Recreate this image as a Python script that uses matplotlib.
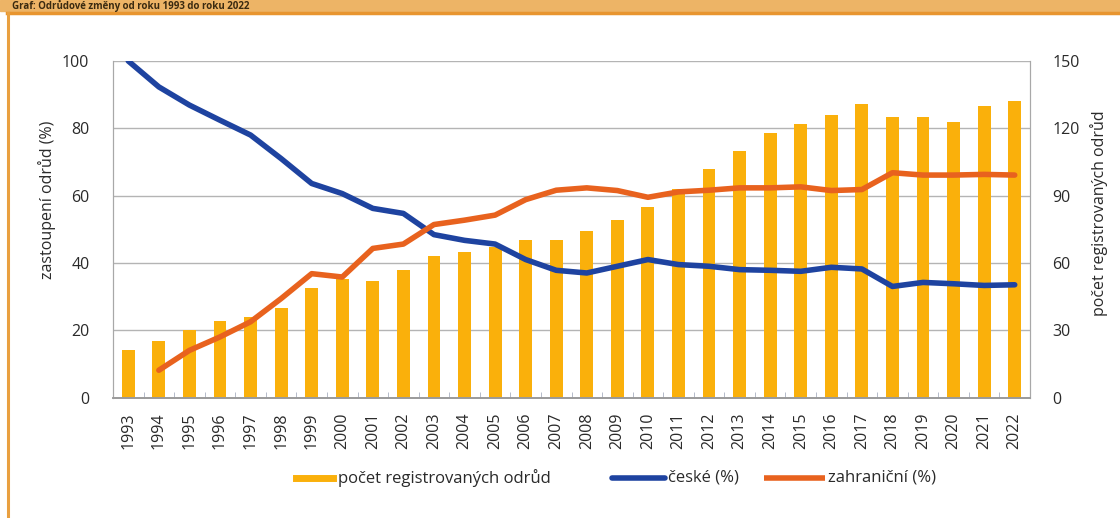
import matplotlib
matplotlib.use("Agg")
import matplotlib.pyplot as plt
from matplotlib.lines import Line2D
from matplotlib.patches import Rectangle
import numpy as np

plt.rcParams['font.family'] = ['Open Sans', 'DejaVu Sans']

years = list(range(1993, 2023))
year_labels = [str(y) for y in years]

# number of registered varieties (right axis)
pocet = [21, 25, 30, 34, 36, 40, 49, 53, 52, 57, 63, 65, 67, 70, 70, 74,
         79, 85, 93, 102, 110, 118, 122, 126, 131, 125, 125, 123, 130, 132]

# share of Czech varieties (%)
ceske = [100, 92.3, 86.9, 82.4, 78, 71, 63.6, 60.6, 56.2, 54.7, 48.4, 46.7, 45.6, 41, 37.8, 37,
         39, 41, 39.5, 39, 38, 37.8, 37.5, 38.7, 38.2, 33, 34.2, 33.8, 33.3, 33.5]

# share of foreign varieties (%) from 1994
zahr_years = list(range(1994, 2023))
zahranicni = [8.1, 14, 18, 22.5, 29.4, 36.8, 35.8, 44.3, 45.6, 51.4, 52.7, 54.2, 58.8, 61.6, 62.3,
              61.5, 59.5, 61.1, 61.6, 62.3, 62.3, 62.6, 61.5, 61.8, 66.8, 66.1, 66.1, 66.3, 66.1]

bar_color = '#FAB00B'
blue = '#1E43A0'
orange = '#E8621E'
grid_c = '#B4B4B4'
txt_c = '#2A2A2A'

W, H = 1120, 518
fig = plt.figure(figsize=(W / 100, H / 100), dpi=100)
fig.patch.set_facecolor('white')

def fx(px):
    return px / W

def fy(py):
    return 1 - py / H

left, right, top, bottom = 113, 1030, 61, 397.5
ax_bar = fig.add_axes([fx(left), fy(bottom), fx(right - left), (bottom - top) / H])
ax_line = ax_bar.twinx()

x = np.arange(len(years))
ax_bar.bar(x, pocet, width=0.42, color=bar_color, zorder=2)
ax_bar.set_ylim(0, 150)
ax_bar.set_xlim(-0.5, len(years) - 0.5)
ax_bar.set_yticks([0, 30, 60, 90, 120, 150])
ax_bar.yaxis.tick_right()
ax_bar.yaxis.set_label_position('right')
for v in [30, 60, 90, 120, 150]:
    ax_bar.axhline(v, color=grid_c, lw=1.0, zorder=1)

zx = [years.index(y) for y in zahr_years]
ax_line.plot(x, ceske, color=blue, lw=4, solid_capstyle='round', solid_joinstyle='round', zorder=3)
ax_line.plot(zx, zahranicni, color=orange, lw=4, solid_capstyle='round', solid_joinstyle='round', zorder=3)
ax_line.set_ylim(0, 100)
ax_line.set_yticks([0, 20, 40, 60, 80, 100])
ax_line.yaxis.tick_left()

ax_bar.set_xticks(x)
ax_bar.set_xticklabels(year_labels, rotation=90, fontsize=11.5, color=txt_c)
ax_bar.set_xticks(x + 0.5, minor=True)
ax_bar.tick_params(axis='x', which='major', length=0, pad=11)
ax_bar.tick_params(axis='x', which='minor', length=4, direction='in', color='#A8B0C0')
ax_bar.tick_params(axis='y', length=0, pad=16, labelsize=11.5, labelcolor=txt_c)
ax_line.tick_params(axis='y', length=0, pad=17, labelsize=11.5, labelcolor=txt_c)
ax_line.tick_params(axis='x', which='both', length=0)

for a in (ax_bar, ax_line):
    a.spines['top'].set_visible(False)
    a.spines['left'].set_color('#A8A8A8')
    a.spines['right'].set_color('#A8A8A8')
    a.spines['bottom'].set_color('#9A9A9A')
    a.spines['bottom'].set_linewidth(1.2)

fig.text(fx(47), fy(200), 'zastoupení odrůd (%)', rotation=90, ha='center', va='center',
         fontsize=11.5, color=txt_c)
fig.text(fx(1099), fy(213), 'počet registrovaných odrůd', rotation=90, ha='center', va='center',
         fontsize=11.5, color=txt_c)

# legend
ly = fy(478)
fig.add_artist(Line2D([fx(296), fx(333)], [ly, ly], color=bar_color, lw=5, transform=fig.transFigure))
fig.text(fx(338), ly, 'počet registrovaných odrůd', ha='left', va='center', fontsize=12, color=txt_c)
fig.add_artist(Line2D([fx(612), fx(665)], [ly, ly], color=blue, lw=4, solid_capstyle='round',
                      transform=fig.transFigure))
fig.text(fx(668), ly, 'české (%)', ha='left', va='center', fontsize=12, color=txt_c)
fig.add_artist(Line2D([fx(764), fx(825)], [ly, ly], color=orange, lw=4, solid_capstyle='butt',
                      transform=fig.transFigure))
fig.text(fx(828), ly, 'zahraniční (%)', ha='left', va='center', fontsize=12, color=txt_c)

# header band and frame
fig.add_artist(Rectangle((0, fy(11)), 1, 11 / H, color='#EDB466', transform=fig.transFigure, zorder=0))
fig.add_artist(Line2D([fx(7), 1], [fy(12.5), fy(12.5)], color='#E8952F', lw=2.5, transform=fig.transFigure))
fig.add_artist(Line2D([fx(7.5), fx(7.5)], [fy(12.5), 0], color='#E9A040', lw=2.2, transform=fig.transFigure))
fig.text(fx(12), fy(9), 'Graf: Odrůdové změny od roku 1993 do roku 2022', ha='left', va='baseline',
         fontsize=7, fontweight='bold', color='#3A2A10')

fig.savefig('out.png', dpi=100, facecolor='white')
